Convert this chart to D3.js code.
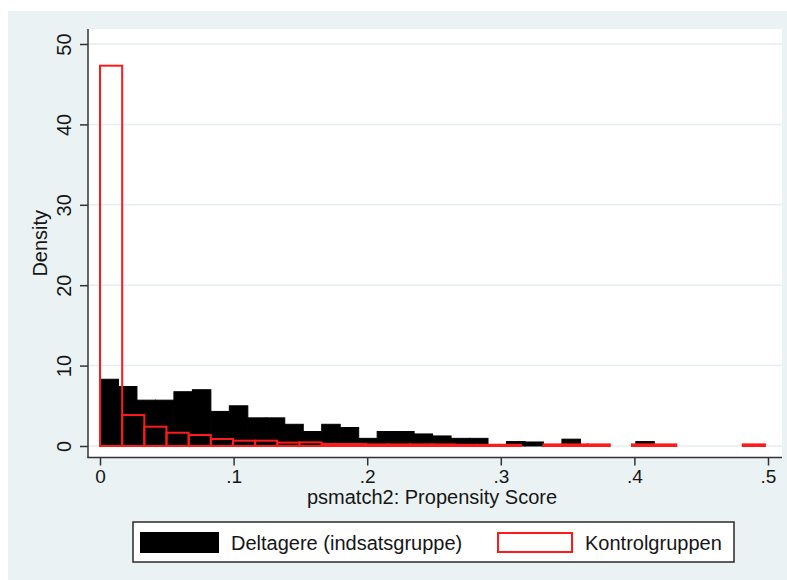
<!DOCTYPE html>
<html>
<head>
<meta charset="utf-8">
<script src="https://cdn.jsdelivr.net/npm/d3@7"></script>
<style>
    body { margin: 0; background: #ffffff; }
    text { font-family: "Liberation Sans", Arial, sans-serif; fill: #161616; }
</style>
</head>
<body>
<div id="chart"></div>
<script>

// histogram densities, one value per bin, bins start at 0
var treatedDensity = [8.3, 7.4, 5.7, 5.7, 6.75, 7.0, 4.3, 5.0, 3.5, 3.5,
                      2.7, 1.8, 2.7, 2.3, 0.95, 1.8, 1.8, 1.5, 1.25, 0.95,
                      0.95, 0, 0.55, 0.5, 0, 0.85, 0, 0, 0, 0.55];
var controlDensity = [47.3, 3.85, 2.4, 1.65, 1.37, 0.87, 0.66, 0.66, 0.42, 0.45,
                      0.25, 0.25, 0.2, 0.2, 0.2, 0.2, 0.15, 0.15, 0.15, 0,
                      0.2, 0.2, 0.2, 0, 0.2, 0.2, 0, 0, 0, 0.2];
var treatedBinWidth = 0.01383;
var controlBinWidth = 0.01659;

var xTicks = [0, 0.1, 0.2, 0.3, 0.4, 0.5];
var xTickLabels = ["0", ".1", ".2", ".3", ".4", ".5"];
var yTicks = [0, 10, 20, 30, 40, 50];
var legendLabels = ["Deltagere (indsatsgruppe)", "Kontrolgruppen"];
var xTitle = "psmatch2: Propensity Score";
var yTitle = "Density";

var svg = d3.select("#chart")
    .append("svg")
    .attr("width", 787)
    .attr("height", 580);

var x = d3.scaleLinear().domain([0, 0.5]).range([100, 768]);
var y = d3.scaleLinear().domain([0, 50]).range([446, 44]);

var plotLeft = 88, plotRight = 782, plotTop = 29, plotBottom = 457.5;

// outer panel + plot region
svg.append("rect")
    .attr("x", 8).attr("y", 11)
    .attr("width", 779).attr("height", 569)
    .attr("fill", "#eaf2f3");
svg.append("rect")
    .attr("x", plotLeft).attr("y", plotTop)
    .attr("width", plotRight - plotLeft).attr("height", plotBottom - plotTop)
    .attr("fill", "#ffffff");

svg.selectAll(".grid")
    .data(yTicks)
    .enter()
    .append("line")
    .attr("class", "grid")
    .attr("x1", plotLeft).attr("x2", plotRight)
    .attr("y1", function(d) { return y(d); })
    .attr("y2", function(d) { return y(d); })
    .attr("stroke", "#e6eef0")
    .attr("stroke-width", 1.5);

var toBins = function (values, width) {
    var bins = [];
    for (var i = 0; i < values.length; i++) {
        if (values[i] > 0) {
            bins.push({ x0: i * width, x1: (i + 1) * width, density: values[i] });
        }
    }
    return bins;
};

svg.selectAll(".treatedBar")
    .data(toBins(treatedDensity, treatedBinWidth))
    .enter()
    .append("rect")
    .attr("class", "treatedBar")
    .attr("x", function(d) { return x(d.x0); })
    .attr("y", function(d) { return y(d.density); })
    .attr("width", function(d) { return x(d.x1) - x(d.x0); })
    .attr("height", function(d) { return y(0) - y(d.density); })
    .attr("fill", "#000000")
    .attr("stroke", "#000000")
    .attr("stroke-width", 1);

svg.selectAll(".controlBar")
    .data(toBins(controlDensity, controlBinWidth))
    .enter()
    .append("rect")
    .attr("class", "controlBar")
    .attr("x", function(d) { return x(d.x0); })
    .attr("y", function(d) { return y(d.density); })
    .attr("width", function(d) { return x(d.x1) - x(d.x0); })
    .attr("height", function(d) { return y(0) - y(d.density); })
    .attr("fill", "none")
    .attr("stroke", "#ff1a1a")
    .attr("stroke-width", 2);

// axes
var xAxis = d3.axisBottom(x)
    .tickValues(xTicks)
    .tickFormat(function(d, i) { return xTickLabels[i]; })
    .tickSize(8)
    .tickSizeOuter(0);
var gx = svg.append("g")
    .attr("transform", "translate(0," + plotBottom + ")")
    .call(xAxis);
gx.select(".domain").remove();
gx.append("line")
    .attr("x1", plotLeft - 0.75).attr("x2", plotRight)
    .attr("stroke", "#333333").attr("stroke-width", 1.5);
gx.selectAll(".tick line").attr("stroke", "#333333").attr("stroke-width", 1.5);
gx.selectAll(".tick text")
    .attr("font-size", 19)
    .attr("fill", "#161616")
    .attr("y", 12)
    .attr("dy", "0.72em");

var yAxis = d3.axisLeft(y)
    .tickValues(yTicks)
    .tickSize(8)
    .tickSizeOuter(0);
var gy = svg.append("g")
    .attr("transform", "translate(" + plotLeft + ",0)")
    .call(yAxis);
gy.select(".domain").remove();
gy.append("line")
    .attr("y1", plotTop).attr("y2", plotBottom)
    .attr("stroke", "#333333").attr("stroke-width", 1.5);
gy.selectAll(".tick line").attr("stroke", "#333333").attr("stroke-width", 1.5);
gy.selectAll(".tick text")
    .attr("font-size", 20)
    .attr("fill", "#161616")
    .attr("x", null).attr("dy", null)
    .attr("text-anchor", "middle")
    .attr("transform", "translate(-17.5,0) rotate(-90)");

// titles
svg.append("text")
    .attr("x", 432).attr("y", 504)
    .attr("text-anchor", "middle")
    .attr("font-size", 20)
    .text(xTitle);
svg.append("text")
    .attr("transform", "translate(46.5," + ((plotTop + plotBottom) / 2) + ") rotate(-90)")
    .attr("text-anchor", "middle")
    .attr("font-size", 20)
    .text(yTitle);

// legend
var legend = svg.append("g").attr("class", "legend");
legend.append("rect")
    .attr("x", 133).attr("y", 522)
    .attr("width", 601).attr("height", 40)
    .attr("fill", "#ffffff")
    .attr("stroke", "#2a2a2a")
    .attr("stroke-width", 1.5);
legend.append("rect")
    .attr("x", 140).attr("y", 532)
    .attr("width", 79).attr("height", 21)
    .attr("fill", "#000000");
legend.append("rect")
    .attr("x", 498).attr("y", 533)
    .attr("width", 74).attr("height", 19)
    .attr("fill", "#ffffff")
    .attr("stroke", "#ff1a1a")
    .attr("stroke-width", 2);
legend.selectAll(".legendLabel")
    .data(legendLabels)
    .enter()
    .append("text")
    .attr("class", "legendLabel")
    .attr("x", function(d, i) { return i == 0 ? 231 : 585; })
    .attr("y", 549.5)
    .attr("font-size", 20)
    .text(function(d) { return d; });

</script>
</body>
</html>
